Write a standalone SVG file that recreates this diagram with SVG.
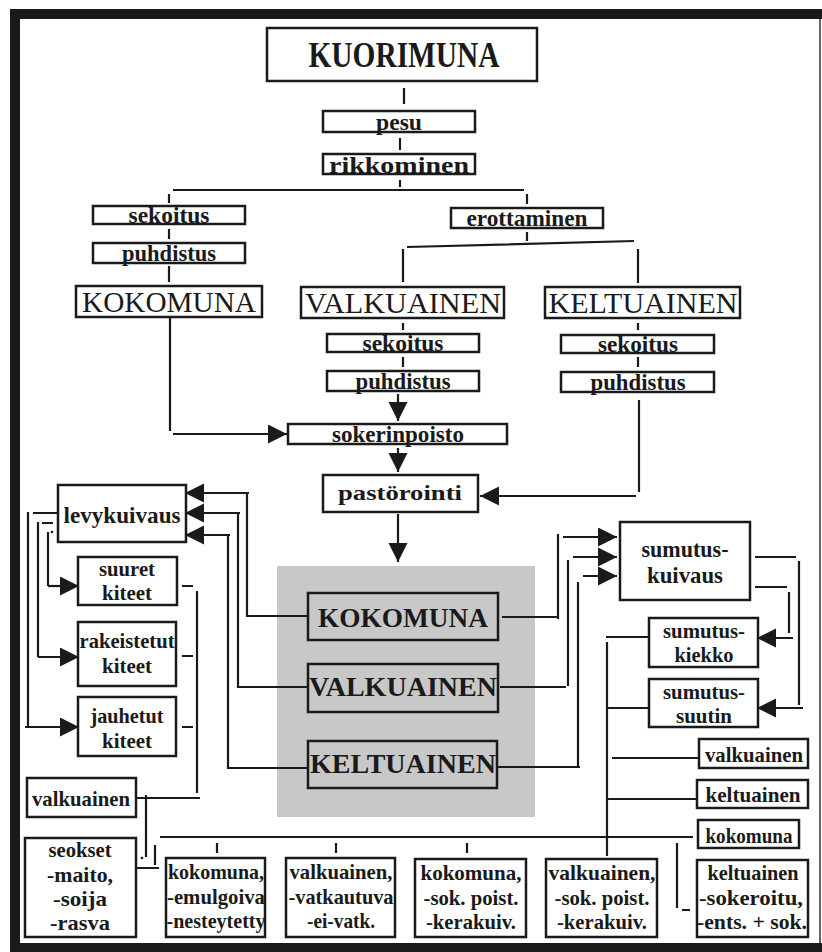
<svg xmlns="http://www.w3.org/2000/svg" width="822" height="952" viewBox="0 0 822 952">
  <style>
    .bx { fill: #fff; stroke: #1a1a1a; stroke-width: 2.5; }
    .bo { fill: none; stroke: #1a1a1a; stroke-width: 2.5; }
    .ln { fill: none; stroke: #1a1a1a; stroke-width: 2.2; }
    .t { font-family: "Liberation Serif", "Times New Roman", serif; font-weight: bold; text-anchor: middle; fill: #1a1a1a; }
    .r { font-weight: normal; }
    .s22 { font-size: 22px; }
    .s24 { font-size: 24px; }
    .s28 { font-size: 28px; }
    .s30 { font-size: 30px; }
  </style>
  <defs>
    <marker id="ah" markerUnits="userSpaceOnUse" markerWidth="21" markerHeight="20" refX="19" refY="9.5" orient="auto">
      <path d="M0,0 L19,9.5 L0,19 Z" fill="#1a1a1a"/>
    </marker>
  </defs>

  <!-- page frame -->
  <g id="frame">
    <rect x="0" y="0" width="822" height="952" fill="#fff"/>
    <rect x="10" y="9" width="812" height="10" fill="#1a1a1a"/>
    <rect x="10" y="9" width="10" height="943" fill="#1a1a1a"/>
    <rect x="10" y="943" width="812" height="9" fill="#1a1a1a"/>
    <line x1="820" y1="19" x2="820" y2="943" stroke="#666" stroke-width="2"/>
  </g>

  <!-- shaded product panel -->
  <rect id="panel" x="277" y="566" width="258" height="251" fill="#c8c8c8"/>

  <!-- connectors -->
  <g id="connectors" class="ln">
    <path d="M404,88 V104 M400,138 V150 M400,180 V187"/>
    <path d="M173,190 H524 M169,194 V203 M527,194 V204"/>
    <path d="M169,229 V239 M169,266 V282"/>
    <path d="M527,232 V241 M407,247 L634,241 M403,249 V282 M638,249 V283"/>
    <path d="M403,323 V330 M403,357 V367 M638,323 V330 M638,357 V367"/>
    <path d="M398,394 V421" marker-end="url(#ah)"/>
    <path d="M170,318 V431"/>
    <path d="M173,434 H287" marker-end="url(#ah)"/>
    <path d="M398,448 V472" marker-end="url(#ah)"/>
    <path d="M639,400 V492"/>
    <path d="M636,496 H480" marker-end="url(#ah)"/>
    <path d="M398,514 V562" marker-end="url(#ah)"/>

    <!-- to spray drying -->
    <path d="M502,617 H557 M558,534 V619"/>
    <path d="M563,537 H617" marker-end="url(#ah)"/>
    <path d="M500,687 H566 M568,560 V686"/>
    <path d="M573,557 H617" marker-end="url(#ah)"/>
    <path d="M497,767 H580 M578,582 V766"/>
    <path d="M583,576 H617" marker-end="url(#ah)"/>

    <!-- to plate drying -->
    <path d="M308,616 H247 V493"/>
    <path d="M249,493 H185" marker-end="url(#ah)"/>
    <path d="M308,687 H238 V513"/>
    <path d="M240,513 H185" marker-end="url(#ah)"/>
    <path d="M308,768 H228 V535"/>
    <path d="M230,535 H185" marker-end="url(#ah)"/>

    <!-- plate drying outputs -->
    <path d="M33,513 H58 M28,512 V727"/>
    <path d="M25,727 H79" marker-end="url(#ah)"/>
    <path d="M38,522 V657 M42,523 H53"/>
    <path d="M38,657 H79" marker-end="url(#ah)"/>
    <path d="M48,532 V586"/>
    <path d="M48,586 H79" marker-end="url(#ah)"/>

    <!-- crystal products collector -->
    <path d="M182,586 H193 M182,656 H193 M182,727 H193"/>
    <path d="M197,591 V793 M137,798 H200"/>
    <path d="M146,795 V857 M135,868 H159 M155,845 V865"/>

    <!-- bottom distribution -->
    <path d="M160,837 H693"/>
    <path d="M217,843 V853 M336,843 V853 M467,843 V853"/>
    <path d="M607,642 V856"/>
    <path d="M606,637 H650 M606,708 H650 M612,758 H698 M606,799 H698"/>
    <path d="M677,843 V908 M682,910 H690"/>

    <!-- spray drying outputs -->
    <path d="M755,557 H796 M799,561 V705"/>
    <path d="M803,708 H757" marker-end="url(#ah)"/>
    <path d="M755,587 H787 M789,592 V633"/>
    <path d="M793,638 H757" marker-end="url(#ah)"/>
  </g>
  <circle cx="52" cy="532" r="1.3" fill="#1a1a1a"/>
  <circle cx="142" cy="858" r="1.3" fill="#1a1a1a"/>

  <!-- upper process -->
  <g id="kuorimuna">
    <rect class="bx" x="267" y="28" width="270" height="53"/>
    <text class="t" x="404" y="67" font-size="35" textLength="191" lengthAdjust="spacingAndGlyphs">KUORIMUNA</text>
  </g>
  <g id="pesu">
    <rect class="bx" x="323" y="111" width="152" height="21"/>
    <text class="t s24" x="399" y="130" textLength="46" lengthAdjust="spacingAndGlyphs">pesu</text>
  </g>
  <g id="rikkominen">
    <rect class="bx" x="323" y="154" width="152" height="20"/>
    <text class="t s24" x="399" y="173" textLength="140" lengthAdjust="spacingAndGlyphs">rikkominen</text>
  </g>
  <g id="sekoitus-1">
    <rect class="bx" x="93" y="206" width="152" height="18"/>
    <text class="t s24" x="169" y="223" textLength="81" lengthAdjust="spacingAndGlyphs">sekoitus</text>
  </g>
  <g id="puhdistus-1">
    <rect class="bx" x="93" y="243" width="152" height="20"/>
    <text class="t s24" x="169" y="261" textLength="94" lengthAdjust="spacingAndGlyphs">puhdistus</text>
  </g>
  <g id="erottaminen">
    <rect class="bx" x="451" y="208" width="152" height="20"/>
    <text class="t s24" x="527" y="226" textLength="121" lengthAdjust="spacingAndGlyphs">erottaminen</text>
  </g>
  <g id="kokomuna-1">
    <rect class="bx" x="76" y="286" width="186" height="31"/>
    <text class="t r s30" x="169" y="312" textLength="174" lengthAdjust="spacingAndGlyphs">KOKOMUNA</text>
  </g>
  <g id="valkuainen-1">
    <rect class="bx" x="301" y="287" width="203" height="31"/>
    <text class="t r s30" x="403" y="313" textLength="196" lengthAdjust="spacingAndGlyphs">VALKUAINEN</text>
  </g>
  <g id="keltuainen-1">
    <rect class="bx" x="545" y="287" width="195" height="31"/>
    <text class="t r s30" x="643" y="313" textLength="189" lengthAdjust="spacingAndGlyphs">KELTUAINEN</text>
  </g>
  <g id="sekoitus-2">
    <rect class="bx" x="327" y="334" width="152" height="18"/>
    <text class="t s24" x="403" y="351" textLength="81" lengthAdjust="spacingAndGlyphs">sekoitus</text>
  </g>
  <g id="puhdistus-2">
    <rect class="bx" x="327" y="371" width="152" height="20"/>
    <text class="t s24" x="403" y="389" textLength="95" lengthAdjust="spacingAndGlyphs">puhdistus</text>
  </g>
  <g id="sekoitus-3">
    <rect class="bx" x="561" y="335" width="153" height="18"/>
    <text class="t s24" x="638" y="352" textLength="80" lengthAdjust="spacingAndGlyphs">sekoitus</text>
  </g>
  <g id="puhdistus-3">
    <rect class="bx" x="561" y="372" width="153" height="20"/>
    <text class="t s24" x="638" y="390" textLength="95" lengthAdjust="spacingAndGlyphs">puhdistus</text>
  </g>
  <g id="sokerinpoisto">
    <rect class="bx" x="288" y="424" width="219" height="20"/>
    <text class="t s24" x="398" y="442" textLength="132" lengthAdjust="spacingAndGlyphs">sokerinpoisto</text>
  </g>
  <g id="pastorointi">
    <rect class="bx" x="323" y="475" width="155" height="37"/>
    <text class="t s22" x="400" y="500" textLength="124" lengthAdjust="spacingAndGlyphs">pastörointi</text>
  </g>

  <!-- products inside the shaded panel -->
  <g id="kokomuna-2">
    <rect class="bo" x="308" y="593" width="190" height="47"/>
    <text class="t s28" x="403" y="627" textLength="170" lengthAdjust="spacingAndGlyphs">KOKOMUNA</text>
  </g>
  <g id="valkuainen-2">
    <rect class="bo" x="308" y="664" width="190" height="48"/>
    <text class="t s28" x="403" y="696" textLength="188" lengthAdjust="spacingAndGlyphs">VALKUAINEN</text>
  </g>
  <g id="keltuainen-2">
    <rect class="bo" x="308" y="741" width="189" height="47"/>
    <text class="t s28" x="403" y="773" textLength="186" lengthAdjust="spacingAndGlyphs">KELTUAINEN</text>
  </g>

  <!-- plate drying branch -->
  <g id="levykuivaus">
    <rect class="bx" x="58" y="485" width="128" height="57"/>
    <text class="t s24" x="122" y="523" textLength="117" lengthAdjust="spacingAndGlyphs">levykuivaus</text>
  </g>
  <g id="suuret-kiteet">
    <rect class="bx" x="78" y="557" width="99" height="48"/>
    <text class="t s22" x="127" y="576" textLength="56" lengthAdjust="spacingAndGlyphs">suuret</text>
    <text class="t s22" x="127" y="600" textLength="50" lengthAdjust="spacingAndGlyphs">kiteet</text>
  </g>
  <g id="rakeistetut-kiteet">
    <rect class="bx" x="78" y="622" width="98" height="64"/>
    <text class="t s22" x="127" y="648" textLength="95" lengthAdjust="spacingAndGlyphs">rakeistetut</text>
    <text class="t s22" x="127" y="673" textLength="50" lengthAdjust="spacingAndGlyphs">kiteet</text>
  </g>
  <g id="jauhetut-kiteet">
    <rect class="bx" x="78" y="697" width="98" height="59"/>
    <text class="t s22" x="127" y="723" textLength="73" lengthAdjust="spacingAndGlyphs">jauhetut</text>
    <text class="t s22" x="127" y="748" textLength="50" lengthAdjust="spacingAndGlyphs">kiteet</text>
  </g>
  <g id="valkuainen-3">
    <rect class="bx" x="27" y="778" width="109" height="39"/>
    <text class="t s22" x="81" y="806" textLength="98" lengthAdjust="spacingAndGlyphs">valkuainen</text>
  </g>
  <g id="seokset">
    <rect class="bx" x="25" y="838" width="111" height="99"/>
    <text class="t s22" x="80" y="857" textLength="63" lengthAdjust="spacingAndGlyphs">seokset</text>
    <text class="t s22" x="80" y="882" textLength="66" lengthAdjust="spacingAndGlyphs">-maito,</text>
    <text class="t s22" x="80" y="906" textLength="54" lengthAdjust="spacingAndGlyphs">-soija</text>
    <text class="t s22" x="80" y="930" textLength="60" lengthAdjust="spacingAndGlyphs">-rasva</text>
  </g>

  <!-- spray drying branch -->
  <g id="sumutuskuivaus">
    <rect class="bx" x="620" y="522" width="130" height="78"/>
    <text class="t s24" x="685" y="557" textLength="87" lengthAdjust="spacingAndGlyphs">sumutus-</text>
    <text class="t s24" x="685" y="583" textLength="76" lengthAdjust="spacingAndGlyphs">kuivaus</text>
  </g>
  <g id="sumutuskiekko">
    <rect class="bx" x="649" y="618" width="109" height="49"/>
    <text class="t s22" x="704" y="638" textLength="82" lengthAdjust="spacingAndGlyphs">sumutus-</text>
    <text class="t s22" x="704" y="662" textLength="59" lengthAdjust="spacingAndGlyphs">kiekko</text>
  </g>
  <g id="sumutussuutin">
    <rect class="bx" x="649" y="679" width="109" height="48"/>
    <text class="t s22" x="704" y="699" textLength="82" lengthAdjust="spacingAndGlyphs">sumutus-</text>
    <text class="t s22" x="704" y="723" textLength="56" lengthAdjust="spacingAndGlyphs">suutin</text>
  </g>
  <g id="valkuainen-4">
    <rect class="bx" x="699" y="739" width="109" height="29"/>
    <text class="t s22" x="754" y="762" textLength="98" lengthAdjust="spacingAndGlyphs">valkuainen</text>
  </g>
  <g id="keltuainen-4">
    <rect class="bx" x="697" y="780" width="111" height="28"/>
    <text class="t s22" x="753" y="802" textLength="95" lengthAdjust="spacingAndGlyphs">keltuainen</text>
  </g>
  <g id="kokomuna-4">
    <rect class="bx" x="698" y="820" width="101" height="28"/>
    <text class="t s22" x="749" y="843" textLength="87" lengthAdjust="spacingAndGlyphs">kokomuna</text>
  </g>

  <!-- final product grades -->
  <g id="kokomuna-emulgoiva">
    <rect class="bx" x="166" y="858" width="99" height="79"/>
    <text class="t s22" x="216" y="879" textLength="96" lengthAdjust="spacingAndGlyphs">kokomuna,</text>
    <text class="t s22" x="216" y="904" textLength="98" lengthAdjust="spacingAndGlyphs">-emulgoiva</text>
    <text class="t s22" x="216" y="928" textLength="99" lengthAdjust="spacingAndGlyphs">-nesteytetty</text>
  </g>
  <g id="valkuainen-vatkautuva">
    <rect class="bx" x="286" y="858" width="109" height="79"/>
    <text class="t s22" x="341" y="879" textLength="103" lengthAdjust="spacingAndGlyphs">valkuainen,</text>
    <text class="t s22" x="341" y="904" textLength="105" lengthAdjust="spacingAndGlyphs">-vatkautuva</text>
    <text class="t s22" x="341" y="928" textLength="68" lengthAdjust="spacingAndGlyphs">-ei-vatk.</text>
  </g>
  <g id="kokomuna-sokpoist">
    <rect class="bx" x="415" y="859" width="111" height="78"/>
    <text class="t s22" x="471" y="880" textLength="101" lengthAdjust="spacingAndGlyphs">kokomuna,</text>
    <text class="t s22" x="471" y="905" textLength="95" lengthAdjust="spacingAndGlyphs">-sok. poist.</text>
    <text class="t s22" x="471" y="929" textLength="90" lengthAdjust="spacingAndGlyphs">-kerakuiv.</text>
  </g>
  <g id="valkuainen-sokpoist">
    <rect class="bx" x="546" y="859" width="111" height="78"/>
    <text class="t s22" x="602" y="880" textLength="107" lengthAdjust="spacingAndGlyphs">valkuainen,</text>
    <text class="t s22" x="602" y="905" textLength="95" lengthAdjust="spacingAndGlyphs">-sok. poist.</text>
    <text class="t s22" x="602" y="929" textLength="90" lengthAdjust="spacingAndGlyphs">-kerakuiv.</text>
  </g>
  <g id="keltuainen-sokeroitu">
    <rect class="bx" x="697" y="860" width="111" height="77"/>
    <text class="t s22" x="753" y="880" textLength="91" lengthAdjust="spacingAndGlyphs">keltuainen</text>
    <text class="t s22" x="751" y="905" textLength="104" lengthAdjust="spacingAndGlyphs">-sokeroitu,</text>
    <text class="t s22" x="752" y="929" textLength="110" lengthAdjust="spacingAndGlyphs">-ents. + sok.</text>
  </g>
</svg>
